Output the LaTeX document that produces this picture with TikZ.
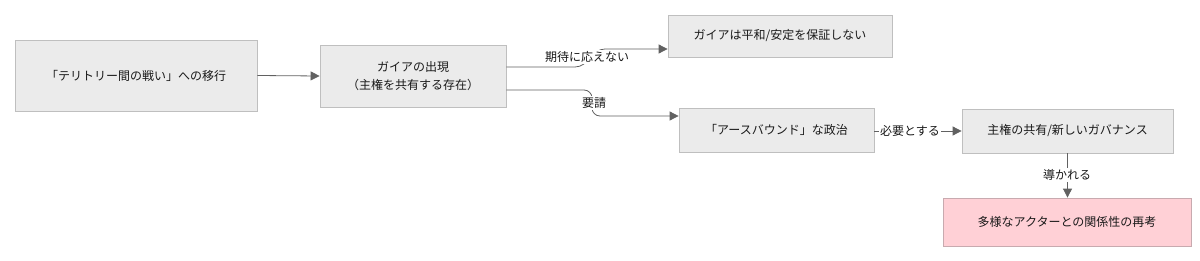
\documentclass[tikz,border=0pt]{standalone}
\usepackage{fontspec}
\setmainfont{Noto Sans CJK JP}
\usetikzlibrary{arrows.meta}
\begin{document}
\begin{tikzpicture}[x=1pt,y=-1pt,
  box/.style={draw=black!25,fill=black!8,line width=0.8pt,minimum height=#1,inner sep=0pt,align=center,font=\fontsize{12}{17.5}\selectfont,text=black!90},
  box/.default=44pt,
  pinkbox/.style={fill={rgb,255:red,255;green,208;blue,214},draw={rgb,255:red,200;green,170;blue,175}},
  edge/.style={draw=black!62,line width=0.8pt,-{Triangle[length=9pt,width=9pt]}},
  lbl/.style={fill=white,inner sep=1.5pt,font=\fontsize{12}{14}\selectfont,text=black!90}]
\useasboundingbox (0,0) rectangle (1200,260);
\node[box=71pt,minimum width=242pt] (a) at (136,75.5) {「テリトリー間の戦い」への移行};
\node[box=62pt,minimum width=186pt] (b) at (413,76) {ガイアの出現\\（主権を共有する存在）};
\node[box=42pt,minimum width=224pt] (c) at (780,36) {ガイアは平和/安定を保証しない};
\node[box=44pt,minimum width=195pt] (d) at (776.5,130) {「アースバウンド」な政治};
\node[box=44pt,minimum width=211pt] (e) at (1067.5,131) {主権の共有/新しいガバナンス};
\node[box=48pt,minimum width=248pt,pinkbox] (f) at (1067,222) {多様なアクターとの関係性の再考};
\draw[edge] (a.east) -- (b.west);
\coordinate (c1) at (575,67);
\coordinate (c2) at (605,49);
\draw[edge] (b.east |- c1) -- (c1) to[out=0,in=180] (c2) -- (c.west |- c2);
\node[lbl] (l1) at (587,57) {期待に応えない};
\coordinate (d1) at (592,90);
\coordinate (d2) at (600,116);
\draw[edge,rounded corners=8pt] (b.east |- d1) -- (d1) -- (d1 |- d2) -- (d.west |- d2);
\node[lbl] (l2) at (594,103) {要請};
\draw[edge] (d.east |- e.west) -- (e.west);
\node[lbl,inner sep=1pt] (l3) at (910,130.5) {必要とする};
\draw[edge] (e.south) -- (e.south |- f.north);
\node[lbl] (l4) at (1067,175) {導かれる};
\end{tikzpicture}
\end{document}
